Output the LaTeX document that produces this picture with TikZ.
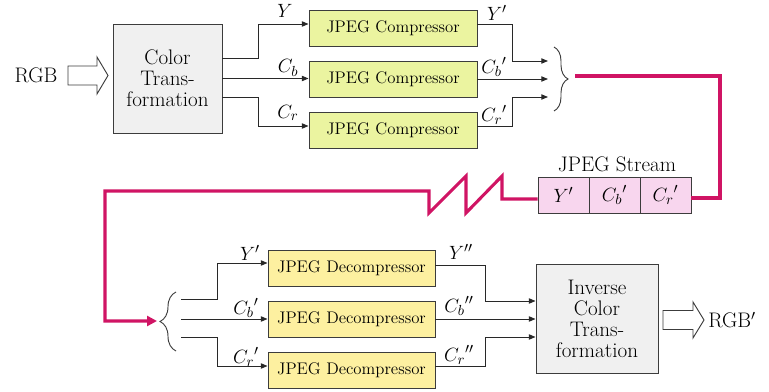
\documentclass[tikz,border=0pt]{standalone}
\usetikzlibrary{calc,decorations.pathreplacing,arrows.meta}
\definecolor{compfill}{RGB}{235,244,160}
\definecolor{decfill}{RGB}{253,240,160}
\definecolor{grayfill}{RGB}{240,240,240}
\definecolor{streamfill}{RGB}{248,214,238}
\definecolor{boxline}{RGB}{60,60,60}
\definecolor{lineclr}{RGB}{40,40,40}
\definecolor{magline}{RGB}{208,20,100}
\begin{document}
\begin{tikzpicture}[x=0.75pt,y=-0.75pt,
  big/.style={font=\fontsize{15.8}{15.8}\selectfont, text=black, inner sep=0pt},
  small/.style={font=\fontsize{12.6}{14}\selectfont},
  box/.style={draw=boxline, line width=0.7pt, inner sep=0pt, align=center, text=black},
  compbox/.style={box, small, fill=compfill, minimum width=126pt, minimum height=27pt},
  decbox/.style={box, small, fill=decfill, minimum width=125.25pt, minimum height=27pt},
  cell/.style={box, big, fill=streamfill, minimum width=38.25pt, minimum height=27pt},
  conn/.style={draw=lineclr, line width=0.7pt},
  arr/.style={conn, -{Triangle[length=5pt,width=4pt]}},
  mag/.style={draw=magline, line width=2.3pt},
  hollow/.style={draw=boxline, line width=0.7pt, fill=white},
  bracestyle/.style={draw=boxline, line width=0.7pt, decorate}
]
\useasboundingbox (0,0) rectangle (769,392);

% ---- top part ----
\node[big] (rgb) at (36,75) {RGB};
\draw[hollow] (68,66) -- (97,66) -- (97,57) -- (108,75.5) -- (97,94) -- (97,85) -- (68,85) -- cycle;
\node[box, fill=grayfill, minimum width=81.75pt, minimum height=81.75pt,
      font=\fontsize{15.8}{15.8}\selectfont] (ct) at (167.5,78.5) {Color\\Trans-\\formation};

\node[compbox] (c1) at (393,28) {JPEG Compressor};
\node[compbox] (c2) at (393,79) {JPEG Compressor};
\node[compbox] (c3) at (393,130) {JPEG Compressor};

\draw[arr] ($(ct.east)+(0,-20.5)$) -- ++(36,0) |- ($(c1.west)+(0,-4)$);
\draw[arr] (ct.east) -- (ct.east -| c2.west);
\draw[arr] ($(ct.east)+(0,18.5)$) -- ++(36,0) |- ($(c3.west)+(0,-4)$);

\node[big] (lY) at (285,11) {$Y$};
\node[big] (lCb) at (288,68) {$C_b$};
\node[big] (lCr) at (288,113) {$C_r$};

\coordinate (in1) at (548,61);
\coordinate (in2) at (548,79);
\coordinate (in3) at (548,97);
\draw[arr] ($(c1.east)+(0,-4)$) -- ++(35,0) |- (in1);
\draw[arr] (c2.east) -- (c2.east -| in2);
\draw[arr] ($(c3.east)+(0,-4)$) -- ++(35,0) |- (in3);

\node[big] (lY1) at (497,13) {$Y'$};
\node[big] (lCb1) at (494,67) {${C_b}'$};
\node[big] (lCr1) at (494,115) {${C_r}'$};

\coordinate (bra1) at (554,47);
\coordinate (bra2) at (554,111);
\draw[bracestyle, decoration={brace, amplitude=10.5pt}] (bra1) -- (bra2);

% ---- stream ----
\node[big] (stl) at (617,164) {JPEG Stream};
\node[cell] (s1) at (563.5,195) {$Y'$};
\node[cell] (s2) at (614.5,195) {${C_b}'$};
\node[cell] (s3) at (665.5,195) {${C_r}'$};

\coordinate (m0) at (575,76);
\draw[mag] (m0) -- (720,76) |- ($(s3.east)+(0,3)$);

\coordinate (bt2) at (157,321);
\draw[mag, -{Triangle[length=7.5pt,width=7.5pt]}] ($(s1.west)+(0,4)$) -- (502,199) -- (502,176) -- (466,213) -- (466,176)
   -- (429,213) -- (429,191) -- (105,191) |- (bt2);

% ---- bottom part ----
\coordinate (brb1) at (176,351);
\coordinate (brb2) at (176,292);
\draw[bracestyle, decoration={brace, amplitude=12pt}] (brb1) -- (brb2);

\node[decbox] (d1) at (351.5,268) {JPEG Decompressor};
\node[decbox] (d2) at (351.5,319) {JPEG Decompressor};
\node[decbox] (d3) at (351.5,370) {JPEG Decompressor};

\coordinate (o1) at (181,299);
\coordinate (o2) at (181,319);
\coordinate (o3) at (181,337);
\draw[arr] (o1) -- (217,299) |- ($(d1.west)+(0,-5)$);
\draw[arr] (o2) -- (o2 -| d2.west);
\draw[arr] (o3) -- (217,337) |- ($(d3.west)+(0,-4)$);

\node[big] (lY2) at (250,253) {$Y'$};
\node[big] (lCb2) at (246,308) {${C_b}'$};
\node[big] (lCr2) at (246,357) {${C_r}'$};

\node[box, fill=grayfill, minimum width=91.5pt, minimum height=81.75pt,
      font=\fontsize{15.8}{15.8}\selectfont] (inv) at (597,318.5) {Inverse\\Color\\Trans-\\formation};

\draw[arr] ($(d1.east)+(0,-3)$) -- ++(50,0) |- ($(inv.west)+(0,-17.5)$);
\draw[arr] (d2.east) -- (d2.east -| inv.west);
\draw[arr] ($(d3.east)+(0,-4)$) -- ++(50,0) |- ($(inv.west)+(0,18.5)$);

\node[big] (lY3) at (461,252) {$Y''$};
\node[big] (lCb3) at (459,306) {${C_b}''$};
\node[big] (lCr3) at (459,355) {${C_r}''$};

\draw[hollow] (663,310.5) -- (693,310.5) -- (693,302) -- (704,320) -- (693,338) -- (693,329.5) -- (663,329.5) -- cycle;
\node[big, anchor=west] (rgb2) at (708,320) {RGB$'$};
\end{tikzpicture}
\end{document}
